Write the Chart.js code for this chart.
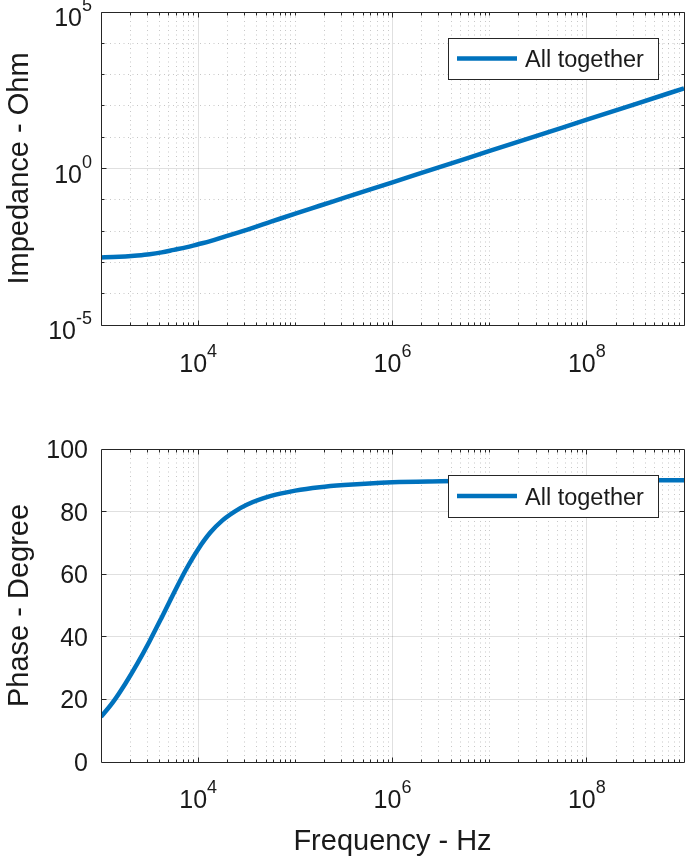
<!DOCTYPE html>
<html><head><meta charset="utf-8">
<script src="https://cdn.jsdelivr.net/npm/chart.js@4.4.1/dist/chart.umd.min.js"></script>
<style>
html,body{margin:0;padding:0;background:#fff;}
#wrap{position:relative;width:685px;height:857px;overflow:hidden;}
.box{position:absolute;left:0;width:685px;}
</style></head><body>
<div id="wrap">
<div class="box" style="top:0;height:400px"><canvas id="c1" width="685" height="400"></canvas></div>
<div class="box" style="top:400px;height:457px"><canvas id="c2" width="685" height="457"></canvas></div>
</div>
<script>
// ---------------- data ----------------
const freqHz = [1000, 1334, 1778, 2371, 3162, 4217, 5623, 7499, 10000, 13335, 17783, 23714, 31623, 56234,
  100000, 177828, 316228, 1000000, 3162278, 10000000, 31622777, 100000000, 316227766, 1000000000];
const impedanceOhm = [1.445e-3, 1.479e-3, 1.549e-3, 1.660e-3, 1.820e-3, 2.089e-3, 2.512e-3, 3.020e-3,
  3.802e-3, 4.786e-3, 6.310e-3, 8.318e-3, 1.096e-2, 1.995e-2, 3.631e-2, 6.457e-2, 0.1148, 0.3631,
  1.148, 3.631, 11.48, 36.31, 114.8, 363.1];
const phaseDeg = [14.4, 19.2, 25.0, 31.5, 38.6, 46.2, 54.0, 61.5, 68.0, 73.3, 77.2, 80.0, 82.2, 85.0,
  86.7, 87.8, 88.5, 89.4, 89.7, 89.9, 90.0, 90.0, 90.0, 90.0];
const seriesLabel = 'All together';
const freqTickExps = [4, 6, 8];          // labelled x ticks: 10^4, 10^6, 10^8
const impedanceTickExps = [-5, 0, 5];    // labelled y ticks (top)
const phaseTicks = [0, 20, 40, 60, 80, 100];
const impedanceTitle = 'Impedance - Ohm';
const phaseTitle = 'Phase - Degree';
const freqTitle = 'Frequency - Hz';

// ---------------- drawing helpers ----------------
const FONT = '"Liberation Sans", Arial, Helvetica, sans-serif';
const TXT = '#1a1a1a';
const AXIS = '#262626';
const BLUE = '#0072BD';
const crisp = v => Math.round(v - 0.5) + 0.5;

function seg(ctx, x1, y1, x2, y2) { ctx.beginPath(); ctx.moveTo(x1, y1); ctx.lineTo(x2, y2); ctx.stroke(); }

function supLabel(ctx, base, exp, x, y, align) {
  ctx.font = '25px ' + FONT;
  const wb = ctx.measureText(base).width;
  ctx.font = '18px ' + FONT;
  const we = ctx.measureText(exp).width;
  const total = wb + we;
  let start = align === 'right' ? x - total : x - total / 2;
  ctx.textAlign = 'left';
  ctx.textBaseline = 'alphabetic';
  ctx.font = '25px ' + FONT;
  ctx.fillText(base, start, y);
  ctx.font = '18px ' + FONT;
  ctx.fillText(exp, start + wb, y - 15);
}

function logMinor(minExp, maxExp, majorExps) {
  const out = [];
  for (let e = minExp; e < maxExp; e++) {
    for (let m = 1; m <= 9; m++) {
      if (m === 1 && (majorExps.includes(e) || e === minExp)) continue;
      out.push(m * Math.pow(10, e));
    }
  }
  return out;
}

const matlabPlugin = {
  id: 'matlab',
  beforeDatasetsDraw(chart, args, o) {
    const { ctx, chartArea: a, scales: { x, y } } = chart;
    ctx.save();
    ctx.lineWidth = 1;
    ctx.strokeStyle = 'rgba(38,38,38,0.26)';
    ctx.setLineDash([1, 3.5]);
    o.xMinor.forEach(v => { const p = crisp(x.getPixelForValue(v)); seg(ctx, p, a.top, p, a.bottom); });
    o.yMinor.forEach(v => { const p = crisp(y.getPixelForValue(v)); seg(ctx, a.left, p, a.right, p); });
    ctx.setLineDash([]);
    ctx.strokeStyle = 'rgba(38,38,38,0.14)';
    o.xMajor.forEach(v => { const p = crisp(x.getPixelForValue(v)); seg(ctx, p, a.top, p, a.bottom); });
    o.yMajor.forEach(v => { const p = crisp(y.getPixelForValue(v)); seg(ctx, a.left, p, a.right, p); });
    ctx.restore();
  },
  afterDatasetsDraw(chart, args, o) {
    const { ctx, chartArea: a, scales: { x, y } } = chart;
    ctx.save();
    ctx.strokeStyle = AXIS;
    ctx.lineWidth = 1;
    const L = crisp(a.left), R = crisp(a.right), T = crisp(a.top), B = crisp(a.bottom);
    // ticks
    const xt = (vals, len) => vals.forEach(v => { const p = crisp(x.getPixelForValue(v)); seg(ctx, p, B, p, B - len); seg(ctx, p, T, p, T + len); });
    const yt = (vals, len) => vals.forEach(v => { const p = crisp(y.getPixelForValue(v)); seg(ctx, L, p, L + len, p); seg(ctx, R, p, R - len, p); });
    xt(o.xMinor, 3); xt(o.xMajor, 5);
    yt(o.yMinor, 3); yt(o.yMajor, 5);
    // box
    ctx.beginPath(); ctx.rect(L, T, R - L, B - T); ctx.stroke();
    // x tick labels
    ctx.fillStyle = TXT;
    o.xLabelExps.forEach(e => supLabel(ctx, '10', String(e), x.getPixelForValue(Math.pow(10, e)), a.bottom + o.xLabelDy, 'center'));
    // y tick labels
    if (o.yLog) {
      o.yLabelExps.forEach(e => supLabel(ctx, '10', String(e), o.yLabelRight, y.getPixelForValue(Math.pow(10, e)) + 14, 'right'));
    } else {
      ctx.font = '25px ' + FONT; ctx.textAlign = 'right'; ctx.textBaseline = 'alphabetic';
      o.yLabels.forEach(v => ctx.fillText(String(v), o.yLabelRight, y.getPixelForValue(v) + 9));
    }
    // y title
    ctx.font = '29px ' + FONT; ctx.textAlign = 'center'; ctx.textBaseline = 'alphabetic';
    ctx.save();
    ctx.translate(o.yTitleX, (a.top + a.bottom) / 2);
    ctx.rotate(-Math.PI / 2);
    ctx.fillText(o.yTitle, 0, 0);
    ctx.restore();
    // x title
    if (o.xTitle) ctx.fillText(o.xTitle, (a.left + a.right) / 2, a.bottom + o.xTitleDy);
    // legend
    const lg = o.legend;
    ctx.fillStyle = '#ffffff';
    ctx.fillRect(lg.x1, lg.y1, lg.x2 - lg.x1, lg.y2 - lg.y1);
    ctx.strokeStyle = AXIS; ctx.lineWidth = 1;
    ctx.strokeRect(crisp(lg.x1), crisp(lg.y1), Math.round(lg.x2 - lg.x1), Math.round(lg.y2 - lg.y1));
    const ds = chart.data.datasets[0];
    ctx.strokeStyle = ds.borderColor; ctx.lineWidth = ds.borderWidth;
    seg(ctx, lg.x1 + 9, (lg.y1 + lg.y2) / 2, lg.x1 + 69, (lg.y1 + lg.y2) / 2);
    ctx.fillStyle = TXT; ctx.font = '23.5px ' + FONT; ctx.textAlign = 'left'; ctx.textBaseline = 'alphabetic';
    ctx.fillText(ds.label, lg.x1 + 77, (lg.y1 + lg.y2) / 2 + 8.5);
    ctx.restore();
  }
};

const xMajorVals = freqTickExps.map(e => Math.pow(10, e));
const xMinorVals = logMinor(3, 9, freqTickExps);

function lineDataset(values) {
  return {
    label: seriesLabel,
    data: freqHz.map((f, i) => ({ x: f, y: values[i] })),
    borderColor: BLUE,
    borderWidth: 4.5,
    pointRadius: 0,
    cubicInterpolationMode: 'monotone',
    fill: false,
    clip: 0
  };
}

function baseOptions(padding, yScale, matlab) {
  return {
    responsive: false,
    animation: false,
    events: [],
    layout: { padding },
    scales: {
      x: { type: 'logarithmic', min: 1e3, max: 1e9, display: false },
      y: Object.assign({ display: false }, yScale)
    },
    plugins: { legend: { display: false }, tooltip: { enabled: false }, matlab }
  };
}

// ---------------- top: impedance ----------------
new Chart(document.getElementById('c1'), {
  type: 'line',
  data: { datasets: [lineDataset(impedanceOhm)] },
  options: baseOptions({ left: 101, right: 1, top: 12, bottom: 75 },
    { type: 'logarithmic', min: 1e-5, max: 1e5 },
    {
      xMajor: xMajorVals, xMinor: xMinorVals,
      yMajor: impedanceTickExps.map(e => Math.pow(10, e)),
      yMinor: [-4, -3, -2, -1, 1, 2, 3, 4].map(e => Math.pow(10, e)),
      xLabelExps: freqTickExps, xLabelDy: 47,
      yLog: true, yLabelExps: impedanceTickExps, yLabelRight: 92,
      yTitle: impedanceTitle, yTitleX: 28,
      legend: { x1: 448, y1: 38, x2: 658, y2: 79 }
    }),
  plugins: [matlabPlugin]
});

// ---------------- bottom: phase ----------------
new Chart(document.getElementById('c2'), {
  type: 'line',
  data: { datasets: [lineDataset(phaseDeg)] },
  options: baseOptions({ left: 101, right: 1, top: 49, bottom: 95 },
    { type: 'linear', min: 0, max: 100 },
    {
      xMajor: xMajorVals, xMinor: xMinorVals,
      yMajor: phaseTicks.slice(1, -1), yMinor: [],
      xLabelExps: freqTickExps, xLabelDy: 46,
      yLog: false, yLabels: phaseTicks, yLabelRight: 88,
      yTitle: phaseTitle, yTitleX: 28,
      xTitle: freqTitle, xTitleDy: 88,
      legend: { x1: 448, y1: 75, x2: 658, y2: 117 }
    }),
  plugins: [matlabPlugin]
});
</script>
</body></html>
